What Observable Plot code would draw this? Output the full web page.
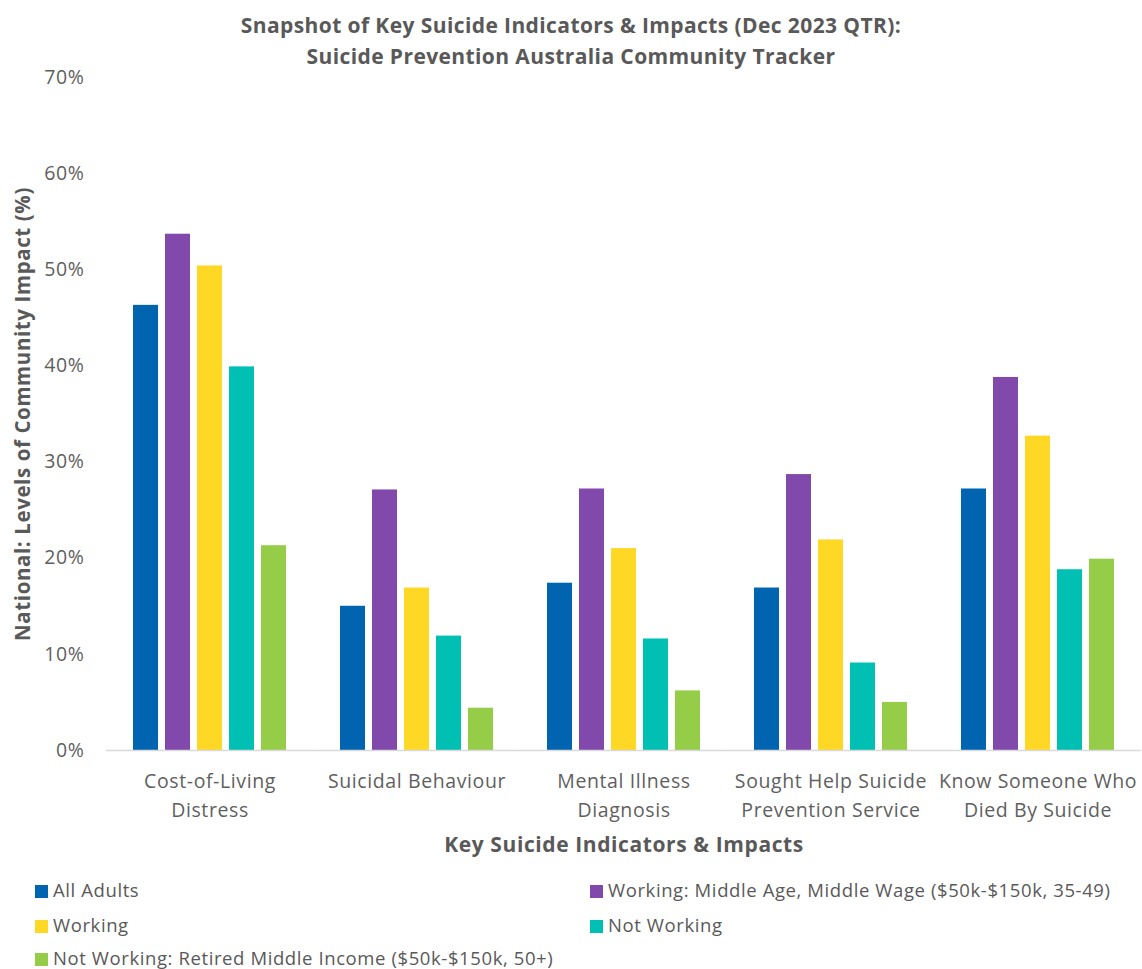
<!DOCTYPE html>
<html>
<head>
<meta charset="utf-8">
<script src="https://cdn.jsdelivr.net/npm/d3@7"></script>
<script src="https://cdn.jsdelivr.net/npm/@observablehq/plot@0.6"></script>
<style>
  body { margin: 0; background: #fff; font-family: "Open Sans", sans-serif; color: #595959; }
  #page { width: 1142px; }
  #title { height: 50px; box-sizing: border-box; padding-top: 10px; text-align: center; overflow: visible;
           font-weight: 700; font-size: 21px; letter-spacing: 0.4px; line-height: 31px; color: #595959; }
  #chart svg { display: block; }
  #legend { position: relative; height: 107px; font-size: 18.5px; letter-spacing: 0.6px; color: #595959; }
  .item { position: absolute; height: 22px; line-height: 22px; white-space: nowrap; }
  .sw { display: inline-block; width: 13px; height: 13px; margin-right: 5px; vertical-align: -1px; }
</style>
</head>
<body>
<div id="page">
  <div id="title">Snapshot of Key Suicide Indicators &amp; Impacts (Dec 2023 QTR):<br>Suicide Prevention Australia Community Tracker</div>
  <div id="chart"></div>
  <div id="legend"></div>
</div>
<script>
// Indicator categories and their two-line axis labels
const categories = [
  "Cost-of-Living Distress",
  "Suicidal Behaviour",
  "Mental Illness Diagnosis",
  "Sought Help Suicide Prevention Service",
  "Know Someone Who Died By Suicide"
];
const tickLabels = [
  "Cost-of-Living\nDistress",
  "Suicidal Behaviour",
  "Mental Illness\nDiagnosis",
  "Sought Help Suicide\nPrevention Service",
  "Know Someone Who\nDied By Suicide"
];

// Population groups (series) and colours
const groups = [
  "All Adults",
  "Working: Middle Age, Middle Wage ($50k-$150k, 35-49)",
  "Working",
  "Not Working",
  "Not Working: Retired Middle Income ($50k-$150k, 50+)"
];
const colors = ["#0064b0", "#8149ab", "#fed824", "#00bfb3", "#95cd48"];

// Percent of each group impacted, per indicator
const allAdults       = [46.3, 15.0, 17.4, 16.9, 27.2];
const workingMidAge   = [53.7, 27.1, 27.2, 28.7, 38.8];
const working         = [50.4, 16.9, 21.0, 21.9, 32.7];
const notWorking      = [39.9, 11.9, 11.6,  9.1, 18.8];
const retiredMidIncome= [21.3,  4.4,  6.2,  5.0, 19.9];

const yTicks = [0, 10, 20, 30, 40, 50, 60, 70];
const yTitle = "National: Levels of Community Impact (%)";
const xTitle = "Key Suicide Indicators & Impacts";

const series = [allAdults, workingMidAge, working, notWorking, retiredMidIncome];
const data = groups.flatMap((g, gi) =>
  categories.map((c, ci) => ({category: c, group: g, value: series[gi][ci]}))
);

const fxPadInner = 0.262;

const chart = Plot.plot({
  width: 1142,
  height: 812,
  marginTop: 27,
  marginLeft: 105,
  marginRight: 1,
  marginBottom: 112,
  style: {fontFamily: "'Open Sans', sans-serif", fontSize: "19.5px", letterSpacing: "0.6px",
          color: "#5f5f5f", background: "transparent"},
  fx: {domain: categories, paddingInner: fxPadInner, paddingOuter: fxPadInner / 2, label: null},
  x: {domain: groups, paddingInner: 0.22, paddingOuter: 0, axis: null},
  y: {domain: [0, 70], label: null},
  color: {domain: groups, range: colors},
  marks: [
    // y axis sits in the first facet, so its padding reaches back past the outer band padding
    Plot.axisY({ticks: yTicks, tickFormat: d => d + "%", tickSize: 0, tickPadding: 49,
                label: null, fontSize: 19.5, fill: "#5f5f5f"}),
    Plot.barY(data, {fx: "category", x: "group", y: "value", fill: "group"}),
    // baseline: each facet's rule stretches half a gap either side so they join up
    Plot.ruleY([0], {stroke: "#d9d9d9", strokeWidth: 1.5, insetLeft: -27.2, insetRight: -27.2}),
    Plot.axisFx({anchor: "bottom", tickSize: 0, tickPadding: 16.5, lineHeight: 1.49,
                 tickFormat: d => tickLabels[categories.indexOf(d)],
                 label: null, fontSize: 19.5, fill: "#5f5f5f"}),
    Plot.text([yTitle], {
      fx: () => categories[0],
      text: d => d, frameAnchor: "left", textAnchor: "middle", lineAnchor: "middle",
      rotate: -90, dx: -110,
      fontWeight: 700, fontSize: 20.5, fill: "#595959"
    }),
    Plot.text([xTitle], {
      fx: () => categories[2],
      text: d => d, frameAnchor: "bottom", lineAnchor: "middle", dy: 95,
      fontWeight: 700, fontSize: 21, fill: "#595959"
    })
  ]
});
document.getElementById("chart").appendChild(chart);

// Legend laid out in two columns, three rows
const legendPos = [
  {left: 35, top: 17}, {left: 590, top: 17},
  {left: 35, top: 52}, {left: 590, top: 52},
  {left: 35, top: 85}
];
const legend = document.getElementById("legend");
groups.forEach((g, i) => {
  const item = document.createElement("div");
  item.className = "item";
  item.style.left = legendPos[i].left + "px";
  item.style.top = legendPos[i].top + "px";
  const sw = document.createElement("span");
  sw.className = "sw";
  sw.style.background = colors[i];
  item.appendChild(sw);
  item.appendChild(document.createTextNode(g));
  legend.appendChild(item);
});
</script>
</body>
</html>
